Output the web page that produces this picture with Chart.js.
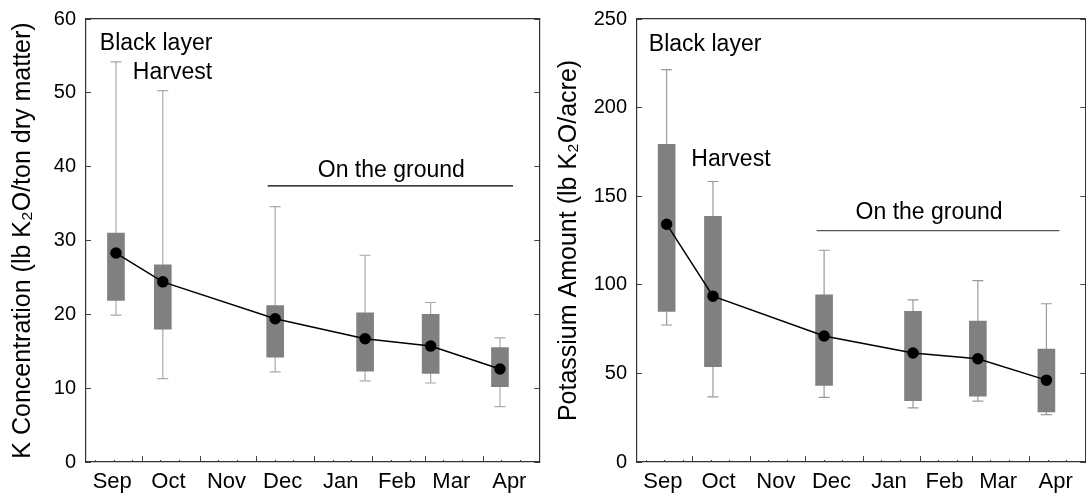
<!DOCTYPE html>
<html lang="en">
<head>
    <meta charset="UTF-8">
    <title>Potassium in corn stover</title>
    <style>
        html, body {
            margin: 0;
            padding: 0;
            background: #fff;
            overflow: hidden;
            width: 1086px;
            height: 499px;
        }
        .panel { position: absolute; top: 0; }
        #left { left: 0; }
        #right { left: 546px; }
    </style>
    <script src="https://cdn.jsdelivr.net/npm/chart.js"></script>
</head>
<body>
<div class="panel" id="left"><canvas id="concChart" width="546" height="499"></canvas></div>
<div class="panel" id="right"><canvas id="amountChart" width="546" height="499"></canvas></div>
<script>
    // sampling dates, as days since Sep 1
    const sampleDays = [16, 41, 101, 149, 184, 221];

    const monthNames = ['Sep', 'Oct', 'Nov', 'Dec', 'Jan', 'Feb', 'Mar', 'Apr'];
    const monthLabelDays = [14, 44, 75, 105, 136, 166, 195, 226];
    const monthStartDays = [30, 61, 91, 122, 153, 181, 212];
    const minorTickDays = [5, 15, 25, 40, 50, 71, 81, 101, 111, 132, 142, 163, 173, 191, 201, 222, 232];
    const axisEnd = 242;

    // K concentration (lb K2O/ton dry matter)
    const concMean = [28.3, 24.4, 19.4, 16.7, 15.7, 12.6];
    const concQ1   = [21.9, 18.0, 14.2, 12.3, 12.0, 10.2];
    const concQ3   = [31.0, 26.7, 21.2, 20.2, 20.0, 15.5];
    const concMin  = [19.9, 11.3, 12.2, 11.0, 10.7, 7.5];
    const concMax  = [54.2, 50.3, 34.6, 28.0, 21.6, 16.8];

    // potassium amount (lb K2O/acre)
    const amtMean = [134.2, 93.6, 71.1, 61.5, 58.3, 46.2];
    const amtQ1   = [85.0, 53.8, 43.2, 34.6, 37.2, 28.2];
    const amtQ3   = [179.3, 138.7, 94.4, 85.0, 79.5, 63.7];
    const amtMin  = [77.3, 36.8, 36.5, 30.5, 34.4, 26.7];
    const amtMax  = [221.4, 158.3, 119.5, 91.5, 102.4, 89.3];

    // "On the ground" period
    const groundDays = [97, 228];
    const concGroundLevel = 37.4;
    const amtGroundLevel = 130.6;

    // text notes (x in days, y in axis units)
    const noteTexts = ['Black layer', 'Harvest', 'On the ground'];
    const concNoteX = [7.4, 25, 163];
    const concNoteY = [56.7, 52.7, 39.4];
    const amtNoteX = [6.4, 29.3, 157.7];
    const amtNoteY = [235.3, 170.4, 140.5];

    const FONT = "'Liberation Sans', Arial, sans-serif";

    const notesPlugin = {
        id: 'notes',
        afterDatasetsDraw(chart, args, opts) {
            const ctx = chart.ctx;
            const x = chart.scales.x, y = chart.scales.y;
            ctx.save();
            ctx.font = '23px ' + FONT;
            ctx.fillStyle = '#000';
            ctx.textBaseline = 'middle';
            opts.texts.forEach((t, i) => {
                ctx.textAlign = i === 2 ? 'center' : 'left';
                ctx.fillText(t, x.getPixelForValue(opts.xs[i]), y.getPixelForValue(opts.ys[i]));
            });
            ctx.restore();
        }
    };

    function whiskerPoints(lo, hi) {
        const pts = [];
        sampleDays.forEach((d, i) => {
            pts.push({ x: d, y: lo[i] }, { x: d, y: hi[i] }, { x: d, y: null });
        });
        return pts;
    }

    function makeChart(id, p) {
        const fixedHeight = h => s => { s.height = h; };
        // fixed width, and drop the label overhang so the plot top/bottom stay put
        const fixedWidth = w => s => { s.width = w; s.paddingTop = 0; s.paddingBottom = 0; };
        const linearX = {
            type: 'linear', min: 0, max: axisEnd, offset: false
        };
        return new Chart(document.getElementById(id), {
            data: {
                datasets: [
                    {
                        type: 'line', order: 1,
                        data: sampleDays.map((d, i) => ({ x: d, y: p.mean[i] })),
                        borderColor: '#000', borderWidth: 1.5,
                        pointRadius: 5, pointBackgroundColor: '#000', pointBorderColor: '#000'
                    },
                    {
                        type: 'bar', order: 2,
                        data: sampleDays.map((d, i) => ({ x: d, y: [p.q1[i], p.q3[i]] })),
                        backgroundColor: '#808080', borderWidth: 0, barThickness: 17
                    },
                    {
                        type: 'line', order: 2,
                        data: groundDays.map(d => ({ x: d, y: p.ground })),
                        borderColor: p.groundColor, borderWidth: 1.2, pointRadius: 0
                    },
                    {
                        type: 'line', order: 3,
                        data: whiskerPoints(p.min, p.max),
                        borderColor: p.whisker, borderWidth: 1.2, pointRadius: 0, spanGaps: false
                    },
                    {
                        type: 'line', order: 3, showLine: false,
                        data: sampleDays.flatMap((d, i) => [{ x: d, y: p.min[i] }, { x: d, y: p.max[i] }]),
                        pointStyle: 'line', pointRadius: 5.5, pointBorderColor: p.whisker, pointBorderWidth: 1.2
                    }
                ]
            },
            options: {
                responsive: false,
                animation: false,
                layout: { padding: { top: 19, left: 0, right: 0, bottom: 0 } },
                plugins: {
                    legend: { display: false },
                    tooltip: { enabled: false },
                    notes: { texts: noteTexts, xs: p.noteX, ys: p.noteY }
                },
                scales: {
                    x: {
                        ...linearX, position: 'bottom', weight: 2,
                        afterBuildTicks: s => { s.ticks = monthLabelDays.map(v => ({ value: v })); },
                        afterFit: fixedHeight(37),
                        ticks: {
                            autoSkip: false, maxRotation: 0, padding: 7, color: '#000',
                            font: { family: FONT, size: 22 },
                            callback: v => monthNames[monthLabelDays.indexOf(v)]
                        },
                        grid: { drawOnChartArea: false, drawTicks: false },
                        border: { color: '#333', width: 1.2 }
                    },
                    xMajor: {
                        ...linearX, position: 'bottom', weight: 0,
                        afterBuildTicks: s => { s.ticks = monthStartDays.map(v => ({ value: v })); },
                        afterFit: fixedHeight(0),
                        ticks: { display: false },
                        grid: { drawOnChartArea: false, tickLength: -6, color: '#444' },
                        border: { display: false }
                    },
                    xMinor: {
                        ...linearX, position: 'bottom', weight: 1,
                        afterBuildTicks: s => { s.ticks = minorTickDays.map(v => ({ value: v })); },
                        afterFit: fixedHeight(0),
                        ticks: { display: false },
                        grid: { drawOnChartArea: false, tickLength: -2, color: '#444' },
                        border: { display: false }
                    },
                    xTop: {
                        ...linearX, position: 'top',
                        afterFit: fixedHeight(0),
                        ticks: { display: false },
                        grid: { drawOnChartArea: false, drawTicks: false },
                        border: { color: '#333', width: 1.2 }
                    },
                    y: {
                        type: 'linear', position: 'left', min: 0, max: p.yMax,
                        afterFit: fixedWidth(p.yWidth),
                        ticks: {
                            stepSize: p.step, padding: 15, color: '#000',
                            font: { family: FONT, size: 20 }
                        },
                        grid: { drawOnChartArea: false, tickLength: -5, color: '#444' },
                        border: { color: '#333', width: 1.2 },
                        title: {
                            display: true, text: p.title, color: '#000',
                            font: { family: FONT, size: 25 },
                            padding: { top: 8, bottom: 0 }
                        }
                    },
                    y2: {
                        type: 'linear', position: 'right', min: 0, max: p.yMax,
                        afterFit: fixedWidth(p.rightWidth),
                        ticks: { display: false, stepSize: p.step },
                        grid: { drawOnChartArea: false, tickLength: -5, color: '#444' },
                        border: { color: '#333', width: 1.2 }
                    }
                }
            },
            plugins: [notesPlugin]
        });
    }

    makeChart('concChart', {
        mean: concMean, q1: concQ1, q3: concQ3, min: concMin, max: concMax,
        ground: concGroundLevel, groundColor: '#000', whisker: '#aaaaaa',
        noteX: concNoteX, noteY: concNoteY,
        yMax: 60, step: 10, yWidth: 86, rightWidth: 5,
        title: 'K Concentration (lb K\u2082O/ton dry matter)'
    });

    makeChart('amountChart', {
        mean: amtMean, q1: amtQ1, q3: amtQ3, min: amtMin, max: amtMax,
        ground: amtGroundLevel, groundColor: '#555', whisker: '#999999',
        noteX: amtNoteX, noteY: amtNoteY,
        yMax: 250, step: 50, yWidth: 91, rightWidth: 1,
        title: 'Potassium Amount (lb K\u2082O/acre)'
    });
</script>
</body>
</html>
